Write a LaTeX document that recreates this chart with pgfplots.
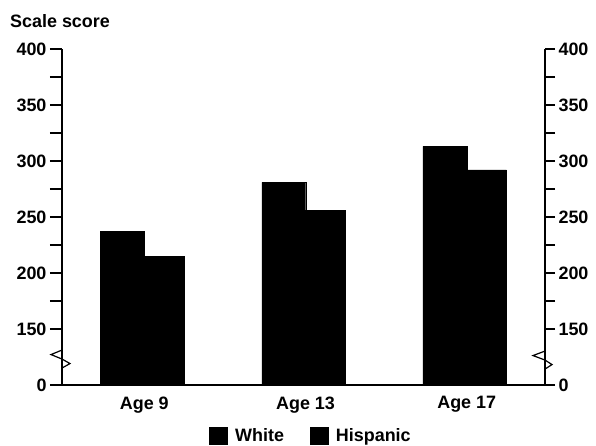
\documentclass[border=0pt]{standalone}
\usepackage{pgfplots}
\pgfplotsset{compat=1.18}
\usepackage{fontspec}
\setmainfont{Liberation Sans}
\newcommand{\lblfont}{\bfseries\fontsize{18}{20}\selectfont}
\begin{document}
\begin{tikzpicture}
\path[use as bounding box] (0,0) rectangle (596bp,-446bp);
\node[anchor=base west, font=\lblfont, inner sep=0pt] at (10bp,-27.3bp) {Scale score};
\begin{axis}[
  scale only axis, width=483bp, height=336bp,
  at={(62bp,-385bp)}, anchor=south west,
  xmin=-0.5106, xmax=2.4857, ymin=0, ymax=300,
  axis x line*=bottom, axis y line*=left,
  axis line style={line width=1.6bp},
  clip=false,
  tick align=outside,
  major tick length=12bp, minor tick length=12bp,
  every tick/.style={line width=1.1bp, black},
  xtick={0,1,2}, xticklabels={Age 9, Age 13, Age 17},
  x tick style={draw=none},
  xticklabel shift=-4bp,
  ytick={0,50,100,150,200,250,300},
  yticklabels={0,150,200,250,300,350,400},
  minor ytick={75,125,175,225,275},
  tick label style={font=\lblfont},
  y filter/.expression={y-100},
  legend columns=2,
  legend style={draw=none, fill=none, at={(0.5135,-0.152)}, anchor=center,
    font=\lblfont, inner sep=0pt,
    nodes={inner sep=0pt},
    /tikz/every odd column/.append style={column sep=8bp},
    /tikz/every even column/.append style={column sep=26bp}},
  legend image code/.code={\fill[black] (0bp,-8.5bp) rectangle (17.5bp,8.5bp);},
]
\addplot[ybar, bar width=0.2724, bar shift=-0.1350, fill=black, draw=black, line width=0.4bp]
  coordinates {(0,237) (1,281) (2,313)};
\addlegendentry{White}
\addplot[ybar, bar width=0.2477, bar shift=0.1228, fill=black, draw=black, line width=0.4bp]
  coordinates {(0,215) (1,256) (2,292)};
\addlegendentry{Hispanic}
\draw[line width=1.2bp] (rel axis cs:0,0.104) -- ++(-11bp,-4.5bp) -- ++(11bp,-4.5bp) -- ++(8bp,-4.5bp) -- ++(-8bp,-4.5bp);
\draw[line width=1.2bp] (rel axis cs:1,0.101) -- ++(-12bp,-4.5bp) -- ++(12bp,-4.5bp) -- ++(7bp,-4.5bp) -- ++(-7bp,-4.5bp);
\end{axis}
\begin{axis}[
  scale only axis, width=483bp, height=336bp,
  at={(62bp,-385bp)}, anchor=south west,
  xmin=-0.5106, xmax=2.4857, ymin=0, ymax=300,
  axis x line=none, axis y line*=right,
  axis line style={line width=1.6bp},
  tick align=outside,
  major tick length=10bp, minor tick length=10bp,
  every tick/.style={line width=1.1bp, black},
  ytick={0,50,100,150,200,250,300},
  yticklabels={0,150,200,250,300,350,400},
  minor ytick={75,125,175,225,275},
  tick label style={font=\lblfont},
]
\end{axis}
\end{tikzpicture}
\end{document}
